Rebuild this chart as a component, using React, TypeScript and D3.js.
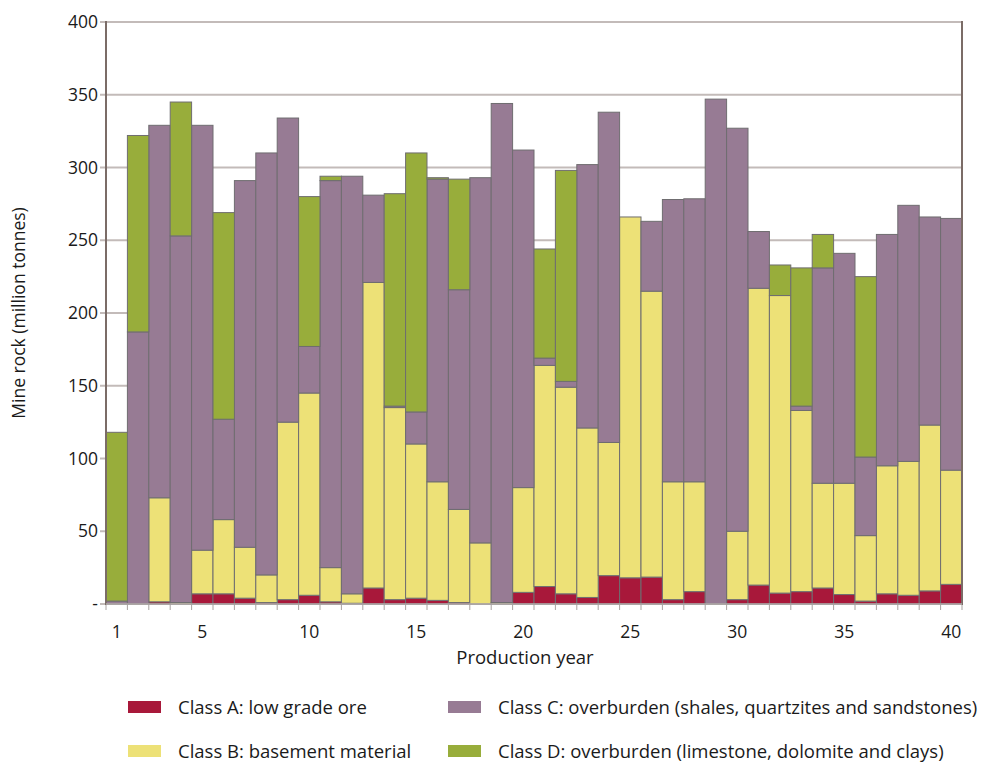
import React from "react";
import * as d3 from "d3";

const years = d3.range(1, 41);
const classA = [0, 0, 1.5, 0, 7, 7, 4, 1, 3, 6, 1.5, 0.5, 11, 3, 4, 2.5, 1, 0, 0, 8, 12, 7, 4.5, 19.5, 18, 18.5, 3, 8.5, 0, 3, 13, 7.5, 8.5, 11, 6.5, 2, 7, 6, 9, 13.5];
const classB = [0, 0, 71.5, 1, 30, 51, 35, 19, 122, 139, 23.5, 6.5, 210, 132, 106, 81.5, 64, 42, 1, 72, 152, 142, 116.5, 91.5, 248, 196.5, 81, 75.5, 0, 47, 204, 204.5, 124.5, 72, 76.5, 45, 88, 92, 114, 78.5];
const classC = [2, 187, 256, 252, 292, 69, 252, 290, 209, 32, 266, 287, 60, 1, 22, 208, 151, 251, 343, 232, 5, 4, 181, 227, 0, 48, 194, 194.5, 347, 277, 39, 0, 3, 148, 158, 54, 159, 176, 143, 173];
const classD = [116, 135, 0, 92, 0, 142, 0, 0, 0, 103, 3, 0, 0, 146, 178, 1, 76, 0, 0, 0, 75, 145, 0, 0, 0, 0, 0, 0, 0, 0, 0, 21, 95, 23, 0, 124, 0, 0, 0, 0];
const yTicks = [0, 50, 100, 150, 200, 250, 300, 350, 400];
const xTickYears = [1, 5, 10, 15, 20, 25, 30, 35, 40];
const seriesKeys = ["A", "B", "C", "D"];
const seriesNames = [
  "Class A: low grade ore",
  "Class B: basement material",
  "Class C: overburden (shales, quartzites and sandstones)",
  "Class D: overburden (limestone, dolomite and clays)",
];
const seriesColors = ["#a8183a", "#ede177", "#977b94", "#98ad3b"];

const W = 985;
const H = 776;
const left = 106;
const right = 962;
const top = 22;
const bottom = 604;
const font = "'Open Sans', sans-serif";

export default function App() {
  const x = d3.scaleBand<number>().domain(years).range([left, right]).paddingInner(0).paddingOuter(0);
  const y = d3.scaleLinear().domain([0, 400]).range([bottom, top]);

  const table = years.map((yr, i) => ({ year: yr, A: classA[i], B: classB[i], C: classC[i], D: classD[i] }));
  const stack = d3.stack<any>().keys(seriesKeys);
  const layers = stack(table);

  const legendPos = [
    { x: 128, y: 701 },
    { x: 128, y: 745 },
    { x: 448, y: 701 },
    { x: 448, y: 745 },
  ];

  return (
    <svg width={W} height={H} style={{ position: "absolute", left: 0, top: 0, background: "#fff" }}>
      {yTicks.map((t) => (
        <line key={"g" + t} x1={100} x2={right} y1={y(t)} y2={y(t)} stroke="#c3bbb9" strokeWidth={2} />
      ))}
      {d3.range(0, 41).map((i) => {
        const xx = left + i * x.bandwidth();
        return <line key={"xt" + i} x1={xx} x2={xx} y1={bottom} y2={bottom + 6} stroke="#a9a3a1" strokeWidth={1} />;
      })}
      {layers.map((layer, li) => (
        <g key={"l" + li} fill={seriesColors[li]} stroke="#6f6d70" strokeWidth={1}>
          {layer.map((d: any, i: number) =>
            d[1] - d[0] > 0 ? (
              <rect
                key={i}
                x={x(years[i])!}
                y={y(d[1])}
                width={x.bandwidth()}
                height={y(d[0]) - y(d[1])}
              />
            ) : null
          )}
        </g>
      ))}
      <line x1={left} x2={left} y1={top - 1} y2={bottom + 1} stroke="#7b6c67" strokeWidth={2} />
      <line x1={right} x2={right} y1={top - 1} y2={bottom + 1} stroke="#7b6c67" strokeWidth={2} />
      <line x1={left} x2={right} y1={bottom} y2={bottom} stroke="#b3adab" strokeWidth={1.5} />
      {yTicks.map((t) => (
        <text
          key={"yl" + t}
          x={98}
          y={y(t)}
          dy="0.35em"
          textAnchor="end"
          fontFamily={font}
          fontSize={17.5}
          fill="#1a1a1a"
        >
          {t === 0 ? "-" : t}
        </text>
      ))}
      {xTickYears.map((t) => (
        <text
          key={"xl" + t}
          x={x(t)! + x.bandwidth() / 2}
          y={638}
          textAnchor="middle"
          fontFamily={font}
          fontSize={17.5}
          fill="#1a1a1a"
        >
          {t}
        </text>
      ))}
      <text x={525} y={664} textAnchor="middle" fontFamily={font} fontSize={18.5} fill="#1a1a1a">
        Production year
      </text>
      <text
        transform={`translate(25,313) rotate(-90)`}
        textAnchor="middle"
        fontFamily={font}
        fontSize={17.5}
        fill="#1a1a1a"
      >
        Mine rock (million tonnes)
      </text>
      {seriesNames.map((name, i) => (
        <g key={"lg" + i}>
          <rect x={legendPos[i].x} y={legendPos[i].y} width={33} height={12} fill={seriesColors[i]} />
          <text
            x={legendPos[i].x + 50}
            y={legendPos[i].y + 13}
            fontFamily={font}
            fontSize={18.5}
            fill="#1a1a1a"
          >
            {name}
          </text>
        </g>
      ))}
    </svg>
  );
}
